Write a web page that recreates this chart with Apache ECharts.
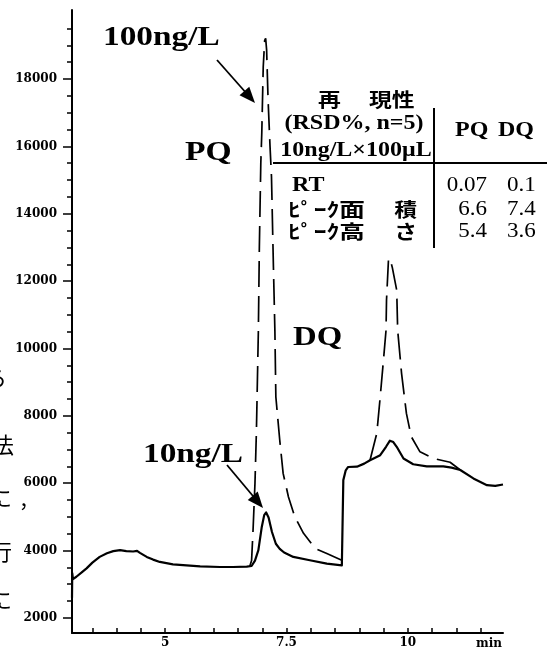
<!DOCTYPE html>
<html>
<head>
<meta charset="utf-8">
<script src="https://cdn.jsdelivr.net/npm/echarts@6/dist/echarts.min.js"></script>
<style>
  html, body { margin: 0; padding: 0; background: #fff; }
  #chart { width: 547px; height: 661px; }
</style>
</head>
<body>
<div id="chart"></div>
<script>
// ---- data ----
// 10 ng/L trace (solid)
const timeSolid = [3.08, 3.085, 3.10, 3.17, 3.28, 3.38, 3.50, 3.65, 3.80, 3.93, 4.07, 4.20, 4.34, 4.42, 4.48, 4.62, 4.75, 4.89, 5.16, 5.44, 5.72, 6.13, 6.40, 6.68, 6.78, 6.85, 6.92, 6.99, 7.04, 7.08, 7.13, 7.20, 7.28, 7.36, 7.45, 7.64, 7.98, 8.33, 8.64, 8.66, 8.67, 8.72, 8.77, 8.95, 9.10, 9.22, 9.43, 9.55, 9.63, 9.70, 9.77, 9.91, 10.11, 10.39, 10.73, 10.90, 11.08, 11.35, 11.63, 11.80, 11.96];
const signalSolid = [2600, 3330, 3150, 3220, 3350, 3470, 3640, 3810, 3920, 3980, 4010, 3980, 3970, 3990, 3930, 3810, 3730, 3660, 3590, 3560, 3530, 3510, 3510, 3520, 3540, 3700, 4010, 4700, 5050, 5130, 4980, 4550, 4200, 4050, 3940, 3810, 3710, 3610, 3560, 3520, 6090, 6380, 6480, 6490, 6580, 6680, 6830, 7080, 7260, 7220, 7080, 6730, 6560, 6500, 6500, 6460, 6390, 6140, 5940, 5920, 5960];
// 100 ng/L trace (dashed), PQ peak part
const timePQ100 = [6.74, 6.78, 6.81, 6.85, 6.88, 6.92, 6.94, 6.97, 6.99, 7.02, 7.05, 7.07, 7.09, 7.12, 7.16, 7.19, 7.23, 7.26, 7.28, 7.36, 7.43, 7.54, 7.67, 7.85, 8.09, 8.33, 8.64];
const signalPQ100 = [3520, 3700, 4600, 6000, 7570, 10540, 13000, 15500, 16390, 18360, 19150, 19210, 18860, 17380, 16000, 15100, 12420, 10540, 8560, 7280, 6290, 5590, 5000, 4510, 4060, 3910, 3710];
// 100 ng/L trace (dashed), DQ peak part
const timeDQ100 = [9.22, 9.36, 9.43, 9.50, 9.55, 9.56, 9.60, 9.63, 9.68, 9.77, 9.79, 9.87, 9.97, 10.07, 10.25, 10.53, 10.87, 11.08];
const signalDQ100 = [6680, 7480, 8560, 9700, 10540, 11440, 12620, 12680, 12400, 11730, 10540, 9260, 8070, 7380, 6930, 6730, 6620, 6390];

// axis ticks / labels
const xLabelValues = [5, 7.5, 10];
const xTickValues = [3.5, 4, 4.5, 5, 5.5, 6, 6.5, 7, 7.5, 8, 8.5, 9, 9.5, 10, 10.5, 11, 11.5];
const yLabelValues = [2000, 4000, 6000, 8000, 10000, 12000, 14000, 16000, 18000];
const yMinorTickValues = [2000, 2500, 3000, 3500, 4000, 4500, 5000, 5500, 6000, 6500, 7000, 7500, 8000, 8500, 9000, 9500, 10000, 10500, 11000, 11500, 12000, 12500, 13000, 13500, 14000, 14500, 15000, 15500, 16000, 16500, 17000, 17500, 18000, 18500, 19000, 19500];

// table of reproducibility
const tableRows = ['RT', 'ﾋﾟｰｸ面', 'ﾋﾟｰｸ高'];
const tableRowTail = ['', '積', 'さ'];
const tablePQ = ['0.07', '6.6', '5.4'];
const tableDQ = ['0.1', '7.4', '3.6'];

const zip = (xs, ys) => xs.map((x, i) => [x, ys[i]]);

const SERIF = "'Liberation Serif', 'Times New Roman', serif";
const AXISF = "'DejaVu Serif', serif";
const JP = "'Noto Sans CJK JP', sans-serif";

function txt(text, x, y, o) {
  o = o || {};
  return {
    type: 'text', x: x, y: y, scaleX: o.sx || 1, z: 10,
    style: {
      text: text, fill: '#000',
      fontSize: o.size || 20, fontFamily: o.family || SERIF, fontWeight: o.weight || 'bold',
      textAlign: o.align || 'left', textVerticalAlign: 'middle',
      align: o.align || 'left', verticalAlign: 'middle'
    }
  };
}
function arrow(x1, y1, x2, y2, hl, hw) {
  const dx = x2 - x1, dy = y2 - y1, L = Math.hypot(dx, dy);
  const ux = dx / L, uy = dy / L, px = -uy, py = ux;
  const bx = x2 - ux * hl, by = y2 - uy * hl;
  return [
    { type: 'line', z: 10, shape: { x1: x1, y1: y1, x2: bx + ux * 2, y2: by + uy * 2 }, style: { stroke: '#000', lineWidth: 1.8 } },
    { type: 'polygon', z: 10, shape: { points: [[x2, y2], [bx + px * hw / 2, by + py * hw / 2], [bx - px * hw / 2, by - py * hw / 2]] }, style: { fill: '#000' } }
  ];
}

const graphics = [];
// peak labels
graphics.push(txt('100ng/L', 103, 38, { size: 28, sx: 1.19 }));
graphics.push(txt('PQ', 185, 153, { size: 28, sx: 1.2 }));
graphics.push(txt('DQ', 293, 338, { size: 28, sx: 1.17 }));
graphics.push(txt('10ng/L', 143, 455, { size: 28, sx: 1.19 }));
graphics.push(...arrow(217, 60, 255, 103, 16, 13));
graphics.push(...arrow(227, 465, 263, 508, 16, 13));
// table header
graphics.push(txt('再', 318, 100, { size: 19, sx: 1.2, family: JP }));
graphics.push(txt('現性', 369, 100, { size: 19, sx: 1.2, family: JP }));
graphics.push(txt('(RSD%, n=5)', 354, 124, { size: 20, sx: 1.2, align: 'center' }));
graphics.push(txt('10ng/L×100μL', 356, 151, { size: 20, sx: 1.2, align: 'center' }));
graphics.push(txt('PQ', 455, 131, { size: 20, sx: 1.2 }));
graphics.push(txt('DQ', 498, 131, { size: 20, sx: 1.2 }));
// table rows
const rowY = [186, 210, 232];
tableRows.forEach((r, i) => {
  if (i === 0) graphics.push(txt(r, 292, rowY[i], { size: 20, sx: 1.2 }));
  else graphics.push(txt(r, 288, rowY[i], { size: 19, sx: 1.35, family: JP }));
  if (tableRowTail[i]) graphics.push(txt(tableRowTail[i], 417, rowY[i], { size: 19, sx: 1.2, family: JP, align: 'right' }));
  graphics.push(txt(tablePQ[i], 487, rowY[i], { size: 20, sx: 1.15, align: 'right', weight: 'normal' }));
  graphics.push(txt(tableDQ[i], 507, rowY[i], { size: 20, sx: 1.15, weight: 'normal' }));
});
graphics.push({ type: 'line', z: 10, shape: { x1: 434, y1: 108, x2: 434, y2: 248 }, style: { stroke: '#000', lineWidth: 2 } });
graphics.push({ type: 'line', z: 10, shape: { x1: 273, y1: 163, x2: 547, y2: 163 }, style: { stroke: '#000', lineWidth: 2 } });
// axis unit
graphics.push(txt('min', 489, 644, { size: 12, family: AXISF, align: 'center' }));
// clipped body-text fragments at left page edge
graphics.push(txt('ら', 7, 378, { size: 22, family: JP, weight: 'normal', align: 'right' }));
graphics.push(txt('法', 14, 445, { size: 22, family: JP, weight: 'normal', align: 'right' }));
graphics.push(txt('に', 12, 498, { size: 22, family: JP, weight: 'normal', align: 'right' }));
graphics.push(txt('，', 19, 500, { size: 20, family: JP, weight: 'normal' }));
graphics.push(txt('行', 12, 552, { size: 22, family: JP, weight: 'normal', align: 'right' }));
graphics.push(txt('に', 12, 600, { size: 22, family: JP, weight: 'normal', align: 'right' }));

const chart = echarts.init(document.getElementById('chart'), null, { renderer: 'canvas' });
chart.setOption({
  animation: false,
  backgroundColor: '#fff',
  grid: { left: 72, right: 44, top: 10, bottom: 28, containLabel: false, outerBoundsMode: 'none' },
  xAxis: {
    type: 'value', min: 3.08, max: 11.96,
    axisLine: { onZero: false, lineStyle: { color: '#000', width: 2 } },
    axisTick: { inside: true, length: 5, customValues: xTickValues, lineStyle: { color: '#000', width: 1.5 } },
    axisLabel: { customValues: xLabelValues, color: '#000', fontFamily: AXISF, fontWeight: 'bold', fontSize: 12, margin: 4,
      formatter: v => String(v) },
    splitLine: { show: false }
  },
  yAxis: [
    {
      type: 'value', min: 1550, max: 20050, position: 'left',
      axisLine: { show: true, onZero: false, lineStyle: { color: '#000', width: 2 } },
      axisTick: { show: true, length: 5, customValues: yMinorTickValues, lineStyle: { color: '#000', width: 1.5 } },
      axisLabel: { show: false },
      splitLine: { show: false }
    },
    {
      type: 'value', min: 1550, max: 20050, position: 'left',
      axisLine: { show: false, onZero: false },
      axisTick: { show: true, length: 9, customValues: yLabelValues, lineStyle: { color: '#000', width: 1.5 } },
      axisLabel: { customValues: yLabelValues, color: '#000', fontFamily: AXISF, fontWeight: 'bold', fontSize: 12, margin: 15,
        formatter: v => String(v) },
      splitLine: { show: false }
    }
  ],
  series: [
    { name: '10ng/L', type: 'line', data: zip(timeSolid, signalSolid), symbol: 'none', z: 4,
      lineStyle: { color: '#000', width: 2.2, join: 'round' } },
    { name: '100ng/L', type: 'line', data: zip(timePQ100, signalPQ100), symbol: 'none', z: 3,
      lineStyle: { color: '#000', width: 1.7, type: [26, 9] } },
    { name: '100ng/L ', type: 'line', data: zip(timeDQ100, signalDQ100), symbol: 'none', z: 3,
      lineStyle: { color: '#000', width: 1.7, type: [26, 9] } }
  ],
  graphic: graphics
});
</script>
</body>
</html>
